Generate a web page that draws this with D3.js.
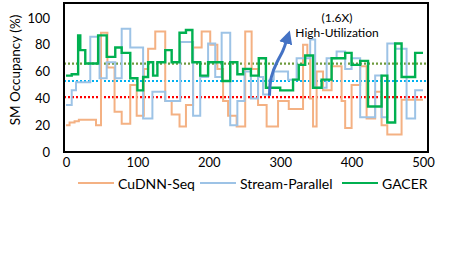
<!DOCTYPE html>
<html>
<head>
<meta charset="utf-8">
<script src="https://cdn.jsdelivr.net/npm/d3@7"></script>
<style>
  body { margin: 0; background: #fff; }
  text { font-family: Lato, "Open Sans", sans-serif; fill: #000; }
</style>
</head>
<body>
<div id="chart"></div>
<script>
// step series: [time, occupancy %]
const cudnnSeq = [[0,20],[5,22],[12,23],[18,24],[42,20],[49,89],[58,63],[68,30],[78,21],[90,50],[99,27],[109,62],[115,77],[125,90],[139,38],[148,28],[159,19],[168,35],[178,78],[190,90],[202,80],[212,62],[220,38],[227,27],[239,19],[251,90],[260,62],[269,35],[281,19],[297,38],[312,32],[332,80],[338,72],[342,40],[346,19],[351,60],[360,46],[372,64],[386,38],[391,18],[400,50],[412,64],[421,25],[433,45],[442,20],[450,13],[470,39],[500,39]];
const streamParallel = [[0,35],[8,46],[14,52],[34,86],[47,55],[57,67],[69,55],[78,92],[90,78],[108,25],[115,25],[121,45],[139,38],[160,82],[169,82],[178,27],[188,56],[199,81],[209,56],[218,89],[230,20],[240,38],[250,60],[259,40],[269,56],[276,43],[285,54],[291,60],[311,54],[323,70],[342,84],[349,48],[365,70],[379,75],[391,62],[400,70],[412,26],[433,57],[442,26],[450,81],[461,77],[477,25],[489,46],[500,46]];
const gacer = [[0,57],[8,58],[17,87],[20,76],[27,66],[45,87],[57,71],[69,78],[78,74],[90,55],[100,46],[108,56],[115,67],[122,57],[128,67],[139,76],[148,67],[159,89],[168,91],[177,67],[188,57],[199,67],[219,53],[230,67],[240,58],[248,62],[259,57],[270,70],[280,48],[300,46],[318,54],[326,65],[335,72],[346,48],[358,54],[372,70],[391,74],[400,65],[412,68],[423,34],[442,57],[450,22],[461,81],[470,56],[489,74],[500,74]];

const seriesNames = ['CuDNN-Seq', 'Stream-Parallel', 'GACER'];
const seriesColors = ['#F4B183', '#9DC3E6', '#00B050'];
const averages = [41, 53, 66];
const averageColors = ['#FF0000', '#00B0F0', '#6E9A3C'];
const xTicks = [0, 100, 200, 300, 400, 500];
const yTicks = [0, 20, 40, 60, 80, 100];

const width = 457, height = 277;
const svg = d3.select('#chart').append('svg')
    .attr('width', width)
    .attr('height', height);

const x = d3.scaleLinear().domain([0, 500]).range([66, 423]);
const y = d3.scaleLinear().domain([0, 100]).range([152, 18]);
const frame = { left: 64, right: 428, top: 3, bottom: 152 };

// average lines
averages.forEach((v, i) => {
    svg.append('line')
        .attr('x1', frame.left).attr('x2', frame.right)
        .attr('y1', y(v)).attr('y2', y(v))
        .attr('stroke', averageColors[i])
        .attr('stroke-width', 2.2)
        .attr('stroke-dasharray', '2 2');
});

const line = d3.line()
    .x(d => x(d[0]))
    .y(d => y(d[1]))
    .curve(d3.curveStepAfter);

[cudnnSeq, streamParallel, gacer].forEach((data, i) => {
    svg.append('path')
        .datum(data)
        .attr('fill', 'none')
        .attr('stroke', seriesColors[i])
        .attr('stroke-width', i === 2 ? 2.4 : 2)
        .attr('d', line);
});

// frame
svg.append('rect')
    .attr('x', frame.left).attr('y', frame.top)
    .attr('width', frame.right - frame.left)
    .attr('height', frame.bottom - frame.top)
    .attr('fill', 'none')
    .attr('stroke', '#000')
    .attr('stroke-width', 2);

// axes (labels only)
svg.append('g')
    .attr('transform', `translate(0,${frame.bottom})`)
    .call(d3.axisBottom(x).tickValues(xTicks).tickSize(0).tickPadding(6))
    .call(g => g.select('.domain').remove())
    .selectAll('text')
    .attr('font-size', 13)
    .style('font-family', 'Lato, sans-serif');

svg.append('g')
    .attr('transform', `translate(${frame.left},0)`)
    .call(d3.axisLeft(y).tickValues(yTicks).tickSize(0).tickPadding(14))
    .call(g => g.select('.domain').remove())
    .selectAll('text')
    .attr('font-size', 13)
    .style('font-family', 'Lato, sans-serif');

svg.append('text')
    .attr('transform', `translate(17,70) rotate(-90)`)
    .attr('text-anchor', 'middle')
    .attr('dominant-baseline', 'middle')
    .attr('font-size', 13.5)
    .text('SM Occupancy (%)');

// arrow annotation
svg.append('defs').append('marker')
    .attr('id', 'head')
    .attr('viewBox', '0 0 10 10')
    .attr('refX', 4).attr('refY', 5)
    .attr('markerWidth', 4.5).attr('markerHeight', 4.5)
    .attr('orient', 'auto')
    .append('path')
    .attr('d', 'M0,0 L10,5 L0,10 Z')
    .attr('fill', '#4472C4');

const arrowPts = [[285, 42], [286, 56], [296, 68], [304, 75], [310, 85]];
svg.append('path')
    .datum(arrowPts)
    .attr('fill', 'none')
    .attr('stroke', '#4472C4')
    .attr('stroke-width', 3)
    .attr('marker-end', 'url(#head)')
    .attr('d', d3.line().x(d => x(d[0])).y(d => y(d[1])).curve(d3.curveBasis));

svg.append('text')
    .attr('x', 337).attr('y', 22)
    .attr('text-anchor', 'middle')
    .attr('font-size', 12)
    .text('(1.6X)');
svg.append('text')
    .attr('x', 337).attr('y', 37)
    .attr('text-anchor', 'middle')
    .attr('font-size', 12)
    .text('High-Utilization');

// legend
const legendX = [78, 200, 342];
const legend = svg.append('g');
seriesNames.forEach((name, i) => {
    legend.append('line')
        .attr('x1', legendX[i]).attr('x2', legendX[i] + 36)
        .attr('y1', 183).attr('y2', 183)
        .attr('stroke', seriesColors[i])
        .attr('stroke-width', 2);
    legend.append('text')
        .attr('x', legendX[i] + 40).attr('y', 183)
        .attr('dominant-baseline', 'central')
        .attr('font-size', 14)
        .text(name);
});
</script>
</body>
</html>
